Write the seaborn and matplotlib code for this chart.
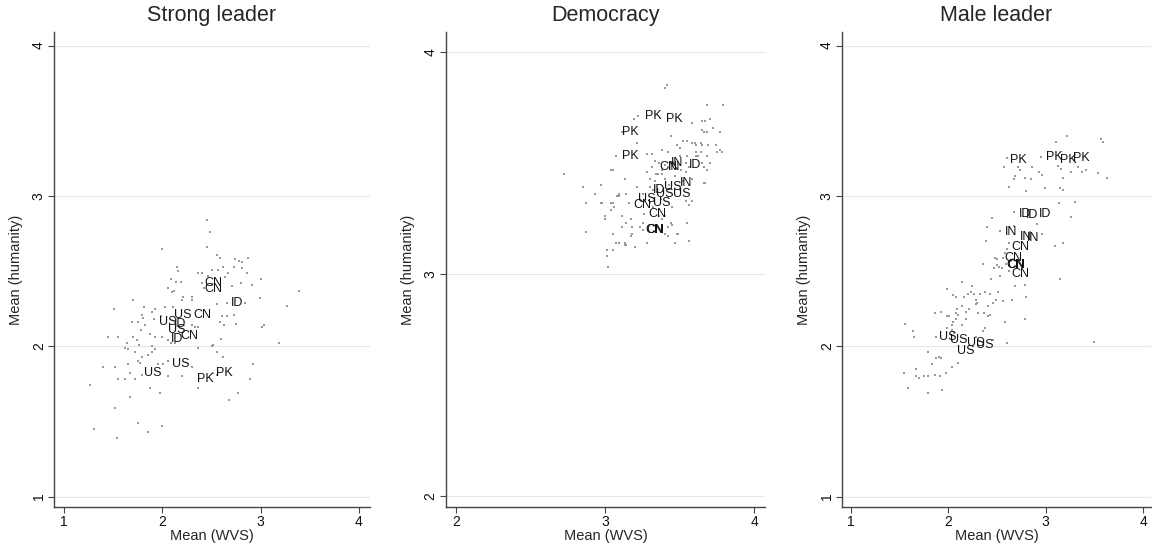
import matplotlib
matplotlib.use("Agg")
import matplotlib.pyplot as plt
import pandas as pd
import seaborn as sns

# ---- Strong leader panel ----
strong_x = [2.49, 2.45, 2.45, 2.00, 2.15, 2.16, 2.36, 2.40, 2.46, 2.09, 2.14, 2.19, 2.40, 2.42, 2.06, 2.10,
            2.12, 2.21, 2.30, 2.30, 2.20, 1.70, 1.51, 1.81, 1.90, 1.93, 2.03, 2.11, 1.79, 1.80, 1.99, 1.69,
            1.75, 1.82, 1.92, 2.30, 2.33, 2.36, 1.78, 1.45, 1.55, 1.64, 1.70, 1.74, 1.87, 1.93, 2.00, 2.06,
            2.09, 2.13, 1.62, 1.65, 1.76, 1.90, 1.93, 2.36, 2.51, 1.72, 1.79, 1.85, 1.90, 1.40, 1.52, 1.65,
            1.75, 1.77, 1.96, 2.01, 2.06, 2.30, 1.55, 1.62, 1.67, 1.72, 1.79, 2.06, 2.20, 1.26, 1.87, 2.36,
            1.98, 1.67, 1.52, 1.75, 1.85, 2.00, 1.31, 1.54,
            2.56, 2.59, 2.74, 2.78, 2.81, 2.87, 2.51, 2.57, 2.62, 2.67, 2.73, 2.81, 2.86, 2.64, 2.71, 2.80,
            2.91, 3.00, 3.39, 2.56, 2.66, 2.84, 2.99, 3.27, 2.61, 2.66, 2.73, 2.59, 2.63, 2.75, 3.01, 3.03,
            2.60, 2.52, 3.19, 2.56, 2.62, 2.92, 2.52, 2.56, 2.89, 2.77, 2.68]
strong_y = [2.76, 2.84, 2.66, 2.65, 2.53, 2.50, 2.49, 2.49, 2.47, 2.45, 2.43, 2.43, 2.42, 2.39, 2.39, 2.36,
            2.37, 2.33, 2.33, 2.31, 2.31, 2.31, 2.25, 2.26, 2.23, 2.25, 2.26, 2.26, 2.21, 2.19, 2.20, 2.16,
            2.16, 2.14, 2.18, 2.14, 2.13, 2.13, 2.11, 2.06, 2.06, 2.02, 2.06, 2.04, 2.08, 2.06, 2.06, 2.04,
            2.02, 2.02, 1.99, 1.98, 2.01, 2.00, 1.98, 1.99, 2.00, 1.96, 1.93, 1.94, 1.96, 1.86, 1.86, 1.88,
            1.90, 1.89, 1.88, 1.88, 1.90, 1.86, 1.78, 1.78, 1.82, 1.78, 1.81, 1.80, 1.80, 1.74, 1.72, 1.72,
            1.69, 1.66, 1.59, 1.49, 1.43, 1.47, 1.45, 1.39,
            2.61, 2.59, 2.58, 2.57, 2.56, 2.59, 2.51, 2.51, 2.53, 2.49, 2.53, 2.52, 2.49, 2.46, 2.40, 2.42,
            2.41, 2.45, 2.37, 2.28, 2.29, 2.29, 2.32, 2.27, 2.20, 2.20, 2.21, 2.16, 2.14, 2.15, 2.13, 2.14,
            2.05, 2.01, 2.02, 1.96, 1.93, 1.88, 1.82, 1.81, 1.78, 1.69, 1.64]
strong_lab = ["CN", "CN", "ID", "US", "CN", "US", "ID", "US", "CN", "ID", "US", "US", "PK", "PK"]
strong_lx = [2.52, 2.52, 2.76, 2.21, 2.41, 2.06, 2.18, 2.15, 2.28, 2.15, 2.19, 1.90, 2.44, 2.63]
strong_ly = [2.42, 2.38, 2.29, 2.21, 2.21, 2.16, 2.15, 2.11, 2.07, 2.05, 1.88, 1.82, 1.78, 1.82]

# ---- Democracy panel ----
demo_x = [3.41, 3.40, 3.68, 3.79, 3.19, 3.22, 3.58, 3.65, 3.67, 3.70, 3.72, 3.65, 3.66, 3.68, 3.77, 3.44,
          3.11, 3.52, 3.55, 3.58, 3.60, 3.61, 3.64, 3.65, 3.21, 3.48, 3.50, 3.69, 3.74, 3.38, 3.42, 3.75,
          3.77, 3.64, 3.28, 3.31, 3.50, 3.55, 3.61, 3.68, 3.07, 3.33, 3.36, 3.40, 3.42, 3.44, 3.54, 3.66,
          3.70, 3.05, 3.31, 3.28, 3.34, 3.38, 3.38, 3.51, 3.54, 3.56, 3.13, 3.30, 3.33, 3.40, 3.58, 3.67,
          2.97, 3.21, 3.30, 3.32, 2.85, 2.93, 3.09, 3.14, 2.72, 3.04, 2.87, 2.97, 3.08, 3.09, 3.05, 3.06,
          3.00, 3.11, 3.05, 3.14, 3.18, 3.18, 3.17, 3.07, 3.09, 3.13, 3.01, 3.05, 3.01, 3.02, 3.20, 3.28,
          3.42, 3.47, 3.56, 3.48, 3.55, 3.44, 3.42, 3.25, 3.30, 3.32, 3.36, 3.38, 3.56, 3.58, 3.66, 3.61,
          3.62, 3.65, 3.68, 3.78, 2.87, 2.98, 3.04, 3.16, 3.04, 3.00, 3.17, 3.26, 3.25, 3.23, 3.25, 3.11,
          3.40, 3.45, 3.38, 3.40, 3.49, 3.13, 3.14, 3.54, 3.35, 3.43, 3.47, 3.52, 3.37, 3.45, 3.50]
demo_y = [3.85, 3.84, 3.76, 3.76, 3.70, 3.71, 3.68, 3.69, 3.69, 3.70, 3.66, 3.65, 3.64, 3.64, 3.64, 3.62,
          3.64, 3.60, 3.60, 3.59, 3.59, 3.58, 3.59, 3.58, 3.59, 3.58, 3.57, 3.58, 3.58, 3.56, 3.55, 3.55,
          3.56, 3.55, 3.54, 3.54, 3.53, 3.53, 3.53, 3.53, 3.53, 3.51, 3.50, 3.49, 3.48, 3.50, 3.50, 3.48,
          3.50, 3.47, 3.48, 3.46, 3.45, 3.47, 3.45, 3.47, 3.46, 3.48, 3.43, 3.43, 3.42, 3.43, 3.43, 3.41,
          3.40, 3.39, 3.39, 3.38, 3.39, 3.36, 3.36, 3.36, 3.45, 3.47, 3.19, 3.32, 3.35, 3.35, 3.32, 3.30,
          3.26, 3.26, 3.18, 3.23, 3.21, 3.18, 3.17, 3.14, 3.14, 3.13, 3.11, 3.11, 3.08, 3.03, 3.12, 3.14,
          3.17, 3.14, 3.15, 3.18, 3.23, 3.23, 3.21, 3.36, 3.32, 3.30, 3.26, 3.25, 3.31, 3.33, 3.41, 3.55,
          3.53, 3.50, 3.47, 3.55, 3.32, 3.32, 3.32, 3.32, 3.29, 3.25, 3.25, 3.27, 3.23, 3.21, 3.20, 3.21,
          3.26, 3.22, 3.20, 3.18, 3.18, 3.14, 3.13, 3.33, 3.45, 3.40, 3.44, 3.42, 3.34, 3.30, 3.38]
demo_lab = ["PK", "PK", "PK", "PK", "IN", "IN", "CN", "ID", "IN", "US", "US", "ID", "US", "US",
            "CN", "US", "CN", "CN", "CN"]
demo_lx = [3.32, 3.46, 3.17, 3.17, 3.48, 3.46, 3.42, 3.60, 3.54, 3.45, 3.51, 3.36, 3.40, 3.28,
           3.25, 3.38, 3.35, 3.33, 3.335]
demo_ly = [3.71, 3.70, 3.64, 3.53, 3.50, 3.48, 3.48, 3.49, 3.41, 3.39, 3.36, 3.38, 3.36, 3.34,
           3.31, 3.32, 3.27, 3.20, 3.20]

# ---- Male leader panel ----
male_x = [3.22, 3.11, 3.57, 3.59, 2.60, 2.95, 2.57, 2.72, 2.74, 2.86, 2.93, 2.96, 3.13, 3.16, 3.26, 3.33,
          3.37, 3.41, 3.54, 3.63, 2.69, 2.68, 2.79, 2.85, 3.18, 2.62, 2.80, 2.99, 3.15, 3.18, 3.14, 3.30,
          3.26, 2.68, 2.45, 2.40, 2.91, 2.68, 2.53, 2.96, 2.39, 2.62, 3.10, 3.18, 2.60, 2.48, 2.56, 2.36,
          2.52, 2.59, 2.50, 3.15, 2.44, 2.14, 2.69, 2.79, 2.80, 2.65, 2.56, 2.24, 2.20, 2.23, 2.26, 2.33,
          2.38, 2.43, 2.51, 2.49, 2.46, 2.28, 2.30, 2.28, 1.99, 2.08, 2.05, 2.16, 2.41, 2.14, 2.21, 2.09,
          2.08, 2.10, 2.18, 2.31, 2.37, 2.41, 1.93, 1.86, 1.99, 2.01, 2.08, 2.18, 2.05, 2.04, 2.14, 1.99,
          2.58, 2.79, 2.43, 1.56, 1.64, 1.65, 1.87, 2.04, 2.06, 2.36, 2.38, 2.28, 2.46, 2.60, 2.04, 1.79,
          1.90, 1.93, 1.87, 1.83, 2.04, 2.10, 1.55, 1.67, 1.67, 1.70, 1.75, 1.79, 1.86, 1.92, 1.98, 1.59,
          1.79, 1.94, 3.50, 2.50, 2.55, 2.62, 2.58, 2.64, 2.47, 2.53]
male_y = [3.40, 3.36, 3.38, 3.36, 3.25, 3.26, 3.19, 3.19, 3.17, 3.19, 3.16, 3.14, 3.20, 3.18, 3.16, 3.19,
          3.16, 3.17, 3.15, 3.12, 3.13, 3.11, 3.12, 3.11, 3.12, 3.06, 3.03, 3.05, 3.05, 3.04, 2.95, 2.96,
          2.86, 2.89, 2.85, 2.79, 2.81, 2.80, 2.77, 2.75, 2.70, 2.69, 2.67, 2.69, 2.65, 2.59, 2.59, 2.55,
          2.53, 2.55, 2.54, 2.45, 2.45, 2.43, 2.40, 2.41, 2.33, 2.31, 2.30, 2.40, 2.35, 2.36, 2.35, 2.35,
          2.36, 2.35, 2.36, 2.31, 2.29, 2.31, 2.29, 2.28, 2.38, 2.33, 2.34, 2.33, 2.27, 2.27, 2.25, 2.25,
          2.22, 2.21, 2.23, 2.22, 2.22, 2.20, 2.23, 2.22, 2.20, 2.20, 2.18, 2.18, 2.16, 2.14, 2.14, 2.12,
          2.16, 2.18, 2.21, 2.15, 2.10, 2.06, 2.06, 2.11, 2.09, 2.10, 2.12, 2.06, 2.04, 2.02, 2.04, 1.96,
          1.93, 1.92, 1.92, 1.88, 1.86, 1.89, 1.82, 1.85, 1.80, 1.79, 1.80, 1.80, 1.81, 1.80, 1.82, 1.72,
          1.69, 1.71, 2.03, 2.58, 2.52, 2.50, 2.62, 2.57, 2.52, 2.47]
male_lab = ["PK", "PK", "PK", "PK", "ID", "ID", "ID", "IN", "IN", "IN", "CN", "CN", "CN", "CN",
            "CN", "US", "US", "US", "US", "US"]
male_lx = [2.72, 3.09, 3.23, 3.37, 2.79, 2.86, 2.99, 2.64, 2.80, 2.87, 2.74, 2.67, 2.69, 2.70,
           2.74, 1.99, 2.11, 2.28, 2.37, 2.18]
male_ly = [3.24, 3.26, 3.24, 3.25, 2.88, 2.87, 2.88, 2.76, 2.73, 2.72, 2.66, 2.59, 2.54, 2.54,
           2.48, 2.06, 2.04, 2.02, 2.01, 1.97]

panels = [
    ("Strong leader", strong_x, strong_y, strong_lab, strong_lx, strong_ly,
     [1, 2, 3, 4], (0.90, 4.11), [1, 2, 3, 4], (0.93, 4.09), [0.047, 0.083, 0.274, 0.859]),
    ("Democracy", demo_x, demo_y, demo_lab, demo_lx, demo_ly,
     [2, 3, 4], (1.93, 4.07), [2, 3, 4], (1.95, 4.09), [0.387, 0.083, 0.277, 0.859]),
    ("Male leader", male_x, male_y, male_lab, male_lx, male_ly,
     [1, 2, 3, 4], (0.91, 4.08), [1, 2, 3, 4], (0.93, 4.09), [0.731, 0.083, 0.268, 0.859]),
]

sns.set_style("white")
plt.rcParams['font.family'] = ['Liberation Sans', 'DejaVu Sans']

fig = plt.figure(figsize=(11.52, 5.53), dpi=100)

for title, xs, ys, labs, lxs, lys, xt, xl, yt, yl, pos in panels:
    ax = fig.add_axes(pos)
    df = pd.DataFrame({"wvs": xs, "humanity": ys})
    sns.scatterplot(data=df, x="wvs", y="humanity", ax=ax, s=4.5, color="#999999",
                    linewidth=0, marker="s", zorder=2)
    # country labels (they overlap in the original too)
    for t, lx, ly in zip(labs, lxs, lys):
        ax.text(lx, ly, t, ha="center", va="center", fontsize=9, color="#111111", zorder=3)

    ax.set_xlim(*xl)
    ax.set_ylim(*yl)
    ax.set_xticks(xt)
    ax.set_yticks(yt)
    ax.yaxis.grid(True, color="#e6e6e6", linewidth=0.8)
    ax.xaxis.grid(False)
    ax.set_axisbelow(True)

    for side in ["top", "right"]:
        ax.spines[side].set_visible(False)
    for side in ["left", "bottom"]:
        ax.spines[side].set_color("#444444")
        ax.spines[side].set_linewidth(1.0)

    ax.tick_params(axis="both", direction="out", length=4, width=0.8, color="#444444",
                   labelsize=10, labelcolor="#111111", bottom=True, left=True, pad=2)
    for lbl in ax.get_yticklabels():
        lbl.set_rotation(90)
        lbl.set_va("center")

    ax.set_xlabel("Mean (WVS)", fontsize=10.5, labelpad=0)
    ax.set_ylabel("Mean (humanity)", fontsize=10.5, labelpad=6)
    ax.set_title(title, fontsize=15.5, pad=8)

plt.savefig("out.png", dpi=100, facecolor="white")
